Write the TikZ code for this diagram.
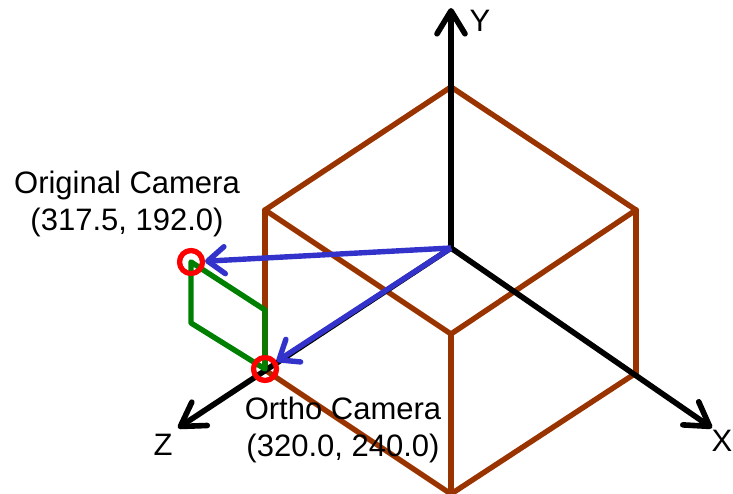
\documentclass[tikz,border=0pt]{standalone}
\usepackage{fontspec}
\setmainfont{Liberation Sans}
\usetikzlibrary{positioning, arrows.meta}

\begin{document}
\begin{tikzpicture}[
            x=1pt, y=-1pt,
            >={Straight Barb[length=23pt, width=28pt, round]},
            % Styles
            axis/.style={draw=black, line width=5.6pt, ->},
            edge/.style={draw={rgb,255:red,153;green,51;blue,0}, line width=5.4pt, line cap=round},
            proj/.style={draw={rgb,255:red,0;green,128;blue,0}, line width=5.4pt, line join=round},
            ray/.style={draw={rgb,255:red,51;green,51;blue,204}, line width=5.4pt,
              -{Straight Barb[length=17pt, width=27pt, round]}},
            cam/.style={circle, draw=red, line width=5pt, minimum size=23pt, inner sep=0pt},
            lbl/.style={font=\fontsize{31}{36.5}\selectfont, align=center, inner sep=0pt}
          ]
          \useasboundingbox (0,0) rectangle (733,494);
          % 1. Cube corners
          \coordinate (top) at (451,87);
          \coordinate (ltop) at (265,210);
          \coordinate (rtop) at (636,210);
          \coordinate (mid) at (451,334);
          \coordinate (lbot) at (265,370);
          \coordinate (rbot) at (636,373);
          \coordinate (bot) at (451,494);
          % 2. Axes ends
          \coordinate (origin) at (451,248);
          \coordinate (yend) at (451,8);
          \coordinate (xend) at (712,428);
          \coordinate (zend) at (178,428);
          % 3. Projection corners
          \coordinate (pa) at (265,310);
          \coordinate (pb) at (191,323);
          % 4. Cameras
          \node[cam] (orig) at (191,262) {};
          \node[cam] (ortho) at (265,369) {};
          % --- Cube ---
          \foreach \a/\b in {top/ltop,top/rtop,ltop/mid,rtop/mid,mid/bot,ltop/lbot,rtop/rbot,lbot/bot,rbot/bot} {
            \draw[edge] (\a) -- (\b);
          }
          % --- Axes ---
          \foreach \e in {yend,xend,zend} {
            \draw[axis] (origin) -- (\e);
          }
          % --- Camera rays and projection ---
          \draw[ray] (origin) -- (orig);
          \draw[ray] (origin) -- (ortho);
          \draw[proj] (orig.center) -- (pa) -- (ortho.center) -- (pb) -- cycle;
          \node[cam] at (orig) {};
          \node[cam] at (ortho) {};
          % --- Labels ---
          \node[lbl] (ylabel) at (480,21) {Y};
          \node[lbl] (xlabel) at (722,441) {X};
          \node[lbl] (zlabel) at (163,445) {Z};
          \node[lbl] (origlabel) at (127,204) {Original Camera\\(317.5, 192.0)};
          \node[lbl] (ortholabel) at (343,430) {Ortho Camera\\(320.0, 240.0)};
        \end{tikzpicture}
\end{document}
